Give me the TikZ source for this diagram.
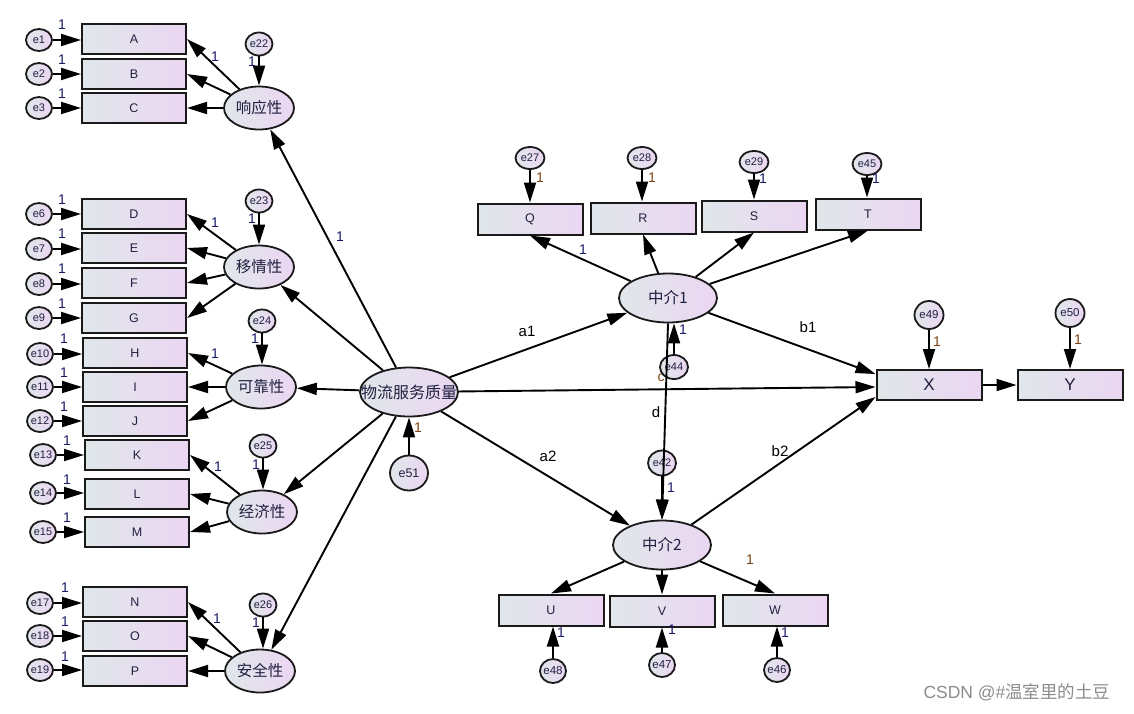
\documentclass[tikz,border=0pt]{standalone}
\usepackage{fontspec}
\setmainfont{Liberation Sans}
\newfontfamily\cjk{Noto Sans CJK SC}
\usetikzlibrary{shapes.geometric,arrows.meta}
\definecolor{boxL}{HTML}{E0E7EA}
\definecolor{boxR}{HTML}{EBD6F2}
\definecolor{edgec}{HTML}{1A1A1A}
\definecolor{navy}{HTML}{1A1A66}
\definecolor{brn}{HTML}{7A4212}
\definecolor{txt}{HTML}{202040}
\newcommand\fsz[1]{\fontsize{#1}{#1}\selectfont}
\newcommand\zw[1]{\makebox[0pt]{#1}}
\tikzset{
 obs/.style={rectangle, draw=edgec, line width=2pt, minimum width=104pt, minimum height=30pt, inner sep=0pt, left color=boxL, right color=boxR, text=txt, font=\fsz{12.5}},
 lat/.style={ellipse, draw=edgec, line width=1.8pt, minimum width=70pt, minimum height=43pt, inner sep=0pt, left color=boxL, right color=boxR, text=txt, font=\cjk\fsz{15.5}},
 big/.style={lat, minimum width=98pt, minimum height=49pt},
 err/.style={ellipse, draw=edgec, line width=1.8pt, minimum width=26pt, minimum height=22pt, inner sep=0pt, left color=boxL, right color=boxR, text=txt, font=\fsz{11}},
 arr/.style={-{Triangle[length=20pt,width=12pt]}, line width=1.9pt, black},
 one/.style={text=navy, font=\fsz{14}, inner sep=0pt},
 onb/.style={text=brn, font=\fsz{14}, inner sep=0pt},
 pl/.style={text=black, font=\fsz{15}, inner sep=0pt},
}
\begin{document}
\begin{tikzpicture}[x=1pt,y=-1pt]
\useasboundingbox (0,0) rectangle (1134,713);
\fill[white] (0,0) rectangle (1134,713);

% ---------- left observed boxes ----------
\node[obs] (A) at (134,39) {A};
\node[obs] (B) at (134,74) {B};
\node[obs] (C) at (134,108) {C};
\node[obs] (D) at (134,214) {D};
\node[obs] (E) at (134,248) {E};
\node[obs] (F) at (134,283) {F};
\node[obs] (G) at (134,318) {G};
\node[obs] (H) at (135,353) {H};
\node[obs] (I) at (135,387) {I};
\node[obs] (J) at (135,421) {J};
\node[obs] (K) at (137,455) {K};
\node[obs] (L) at (137,494) {L};
\node[obs] (M) at (137,532) {M};
\node[obs] (N) at (135,602) {N};
\node[obs] (O) at (135,636) {O};
\node[obs] (P) at (135,671) {P};

% ---------- left errors ----------
\node[err] (e1) at (39,40) {\zw{e1}};
\node[err] (e2) at (39,74) {\zw{e2}};
\node[err] (e3) at (39,108) {\zw{e3}};
\node[err] (e6) at (39,214) {\zw{e6}};
\node[err] (e7) at (39,249) {\zw{e7}};
\node[err] (e8) at (39,284) {\zw{e8}};
\node[err] (e9) at (39,318) {\zw{e9}};
\node[err] (e10) at (40,354) {\zw{e10}};
\node[err] (e11) at (40,387) {\zw{e11}};
\node[err] (e12) at (40,421) {\zw{e12}};
\node[err] (e13) at (43,455) {\zw{e13}};
\node[err] (e14) at (43,493) {\zw{e14}};
\node[err] (e15) at (43,532) {\zw{e15}};
\node[err] (e17) at (40,603) {\zw{e17}};
\node[err] (e18) at (40,636) {\zw{e18}};
\node[err] (e19) at (40,670) {\zw{e19}};

% ---------- factors ----------
\node[lat] (f1) at (259,108) {\zw{响应性}};
\node[lat] (f2) at (259,267) {\zw{移情性}};
\node[lat] (f3) at (261,387) {\zw{可靠性}};
\node[lat] (f4) at (262,512) {\zw{经济性}};
\node[lat] (f5) at (260,671) {\zw{安全性}};
\node[err, minimum width=27pt, minimum height=23pt] (e22) at (259,44) {\zw{e22}};
\node[err, minimum width=27pt, minimum height=23pt] (e23) at (259,201) {\zw{e23}};
\node[err, minimum width=27pt, minimum height=23pt] (e24) at (262,321) {\zw{e24}};
\node[err, minimum width=27pt, minimum height=23pt] (e25) at (263,446) {\zw{e25}};
\node[err, minimum width=27pt, minimum height=23pt] (e26) at (263,605) {\zw{e26}};

% ---------- centre ----------
\node[big, font=\cjk\fsz{16}] (wl) at (409,392) {\zw{物流服务质量}};
\node[err, minimum width=38pt, minimum height=35pt, font=\fsz{12.5}] (e51) at (409,473) {\zw{e51}};

% ---------- mediator 1 ----------
\node[big] (m1) at (668,298) {\zw{中介1}};
\node[obs, minimum width=105pt, minimum height=31pt] (Q) at (530,219) {Q};
\node[obs, minimum width=105pt, minimum height=31pt] (R) at (643,218) {R};
\node[obs, minimum width=105pt, minimum height=31pt] (S) at (754,216) {S};
\node[obs, minimum width=105pt, minimum height=31pt] (T) at (868,214) {T};
\node[err, minimum width=29pt] (e27) at (530,158) {\zw{e27}};
\node[err, minimum width=29pt] (e28) at (642,158) {\zw{e28}};
\node[err, minimum width=29pt] (e29) at (754,162) {\zw{e29}};
\node[err, minimum width=29pt] (e45) at (867,164) {\zw{e45}};

% label partly hidden behind e44
\node[text=brn, font=\fsz{14}, inner sep=0pt] (lc) at (661,378) {c};
\node[err, minimum width=28pt, minimum height=24pt, font=\fsz{11}] (e44) at (674,367) {\zw{e44}};

% ---------- mediator 2 ----------
\node[big] (m2) at (662,545) {\zw{中介2}};
\node[err, minimum width=28pt, minimum height=25pt, font=\fsz{11}] (e42) at (662,463) {\zw{e42}};
\node[obs, minimum width=105pt, minimum height=31pt] (U) at (551,610) {U};
\node[obs, minimum width=105pt, minimum height=31pt] (V) at (662,611) {V};
\node[obs, minimum width=105pt, minimum height=31pt] (W) at (775,610) {W};
\node[err, minimum height=24pt, font=\fsz{11.5}] (e48) at (553,671) {\zw{e48}};
\node[err, minimum height=24pt, font=\fsz{11.5}] (e47) at (662,665) {\zw{e47}};
\node[err, minimum height=24pt, font=\fsz{11.5}] (e46) at (777,670) {\zw{e46}};

% ---------- outcome ----------
\node[obs, minimum width=105pt, font=\fsz{17}] (X) at (929,385) {X};
\node[obs, minimum width=105pt, font=\fsz{17}] (Y) at (1070,385) {Y};
\node[err, minimum width=29pt, minimum height=28pt, font=\fsz{11.5}] (e49) at (929,315) {\zw{e49}};
\node[err, minimum width=29pt, minimum height=28pt, font=\fsz{11.5}] (e50) at (1070,313) {\zw{e50}};

% ---------- arrows: errors to indicators ----------
\foreach \e/\b in {e1/A,e2/B,e3/C,e6/D,e7/E,e8/F,e9/G,e10/H,e11/I,e12/J,e13/K,e14/L,e15/M,e17/N,e18/O,e19/P}
  \draw[arr] (\e) -- (\b.west |- \e);
\foreach \e/\b in {e22/f1,e23/f2,e24/f3,e25/f4,e26/f5,e27/Q,e28/R,e29/S,e45/T,e49/X,e50/Y}
  \draw[arr] (\e) -- (\e |- \b.north);
\foreach \e/\b in {e48/U,e47/V,e46/W}
  \draw[arr] (\e) -- (\e |- \b.south);
\draw[arr] (e51) -- (wl);
\draw[arr] (e44) -- (e44 |- m1.south);
\draw[arr] (e42) -- (m2);

% ---------- loadings ----------
\foreach \f/\b in {f1/A,f1/B,f1/C,f2/D,f2/E,f2/F,f2/G,f3/H,f3/I,f3/J,f4/K,f4/L,f4/M,f5/N,f5/O,f5/P}
  \draw[arr] (\f) -- (\b.east);
\foreach \b in {Q,R,S,T}
  \draw[arr] (m1) -- (\b.south);
\foreach \b in {U,V,W}
  \draw[arr] (m2) -- (\b.north);

% ---------- structural paths ----------
\foreach \f in {f1,f2,f3,f4,f5}
  \draw[arr] (wl) -- (\f);
\coordinate (Xb1) at ([yshift=11pt]X.west);
\coordinate (Xb2) at ([yshift=-12pt]X.west);
\draw[arr] (wl) -- (m1);
\draw[arr] (wl) -- (m2);
\draw[arr] (wl) -- ([yshift=-2pt]X.west);
\draw[arr] (m1) -- (Xb1);
\draw[arr] (m2) -- (Xb2);
\draw[arr] (m1.south) -- (m2.north);
\draw[arr] (X) -- (Y);

% ---------- "1" labels ----------
\foreach \x/\y in {62/25,62/60,62/94,62/200,62/234,62/269,62/304,64/339,64/373,64/407,67/441,67/480,67/518,65/588,65/622,65/657,
  215/57,215/223,215/354,218/467,217/619,252/62,252/219,255/339,256/465,256/623,
  340/237,763/179,876/179,583/250,683/330,671/488,561/633,672/630,785/633}
  \node[one] at (\x,\y) {1};
\foreach \x/\y in {540/178,652/178,418/428,750/560,937/342,1078/340}
  \node[onb] at (\x,\y) {1};

% ---------- path labels ----------
\node[pl] (la1) at (527,331) {a1};
\node[pl] (la2) at (548,456) {a2};
\node[pl] (lb1) at (808,327) {b1};
\node[pl] (lb2) at (780,451) {b2};
\node[pl] (ld) at (656,412) {d};

% ---------- watermark ----------
\node[text=black!45, font=\fsz{17.5}, inner sep=0pt] (wm) at (1017,692) {CSDN @\#{\cjk 温室里的土豆}};
\end{tikzpicture}
\end{document}
